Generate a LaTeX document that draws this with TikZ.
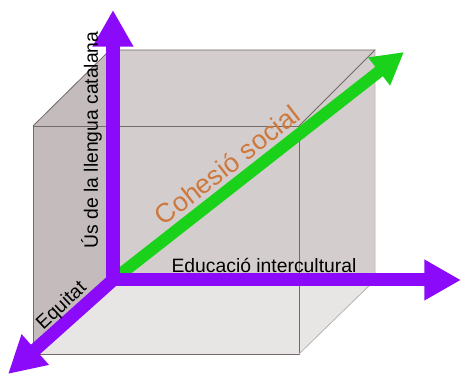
\documentclass[tikz,border=0pt]{standalone}
\usepackage{fontspec}
\setmainfont{Liberation Sans}
\usetikzlibrary{arrows.meta}
\definecolor{axisviolet}{RGB}{140,10,250}
\definecolor{cohgreen}{RGB}{25,210,25}
\definecolor{cohorange}{RGB}{205,120,60}
\definecolor{cubemid}{RGB}{212,205,205}
\definecolor{cubedark}{RGB}{196,188,188}
\definecolor{cubelight}{RGB}{232,229,229}
\definecolor{cubeedge}{RGB}{115,105,105}
\begin{document}
\begin{tikzpicture}[
        x=0.03cm, y=-0.03cm,
        axis/.style={line width=0.39cm, draw=axisviolet, -{Triangle[length=1.1cm, width=1.15cm]}},
        social/.style={line width=0.36cm, draw=cohgreen, -{Triangle[length=0.95cm, width=1cm]}},
        edge/.style={draw=cubeedge, line width=0.7pt},
        label/.style={font=\fontsize{16.5}{18}\selectfont, text=black, inner sep=0pt}
    ]
    \useasboundingbox (0,0) rectangle (462,376);

    % cube corners (front / back)
    \coordinate (ftl) at (33,126);
    \coordinate (ftr) at (299,126);
    \coordinate (fbr) at (299,354);
    \coordinate (fbl) at (33,354);
    \coordinate (btl) at (110,50);
    \coordinate (btr) at (375,50);
    \coordinate (bbr) at (375,280);
    \coordinate (bbl) at (110,280);

    % faces
    \fill[cubemid] (ftl) -- (btl) -- (btr) -- (bbr) -- (fbr) -- (fbl) -- cycle;
    \fill[cubedark] (ftl) -- (btl) -- (bbl) -- (fbl) -- cycle;
    \fill[cubelight] (fbl) -- (bbl) -- (bbr) -- (fbr) -- cycle;

    % edges
    \draw[edge] (ftl) rectangle (fbr);
    \draw[edge] (ftl) -- (btl) -- (btr) -- (ftr);
    \draw[edge, draw=cubeedge!50] (btr) -- (bbr) -- (fbr);

    % axes
    \coordinate (O) at (113,280);
    \coordinate (ytip) at (113,10);
    \coordinate (xtip) at (461,280);
    \coordinate (ztip) at (8,374);
    \coordinate (ctip) at (404,52);
    \draw[social] (O) -- (ctip);
    \draw[axis] (O) -- (ztip);
    \draw[axis] (O) -- (ytip);
    \draw[axis] (O) -- (xtip);

    % labels
    \node[label, anchor=base, rotate=90] (usLbl) at (98,140) {Ús de la llengua catalana};
    \node[label, anchor=base] (eduLbl) at (264,273) {Educació intercultural};
    \node[label, rotate=43] (eqLbl) at (62,306) {Equitat};
    \node[font=\fontsize{23}{25}\selectfont, text=cohorange, rotate=38] (cohLbl) at (227,165) {Cohesió social};
\end{tikzpicture}
\end{document}
